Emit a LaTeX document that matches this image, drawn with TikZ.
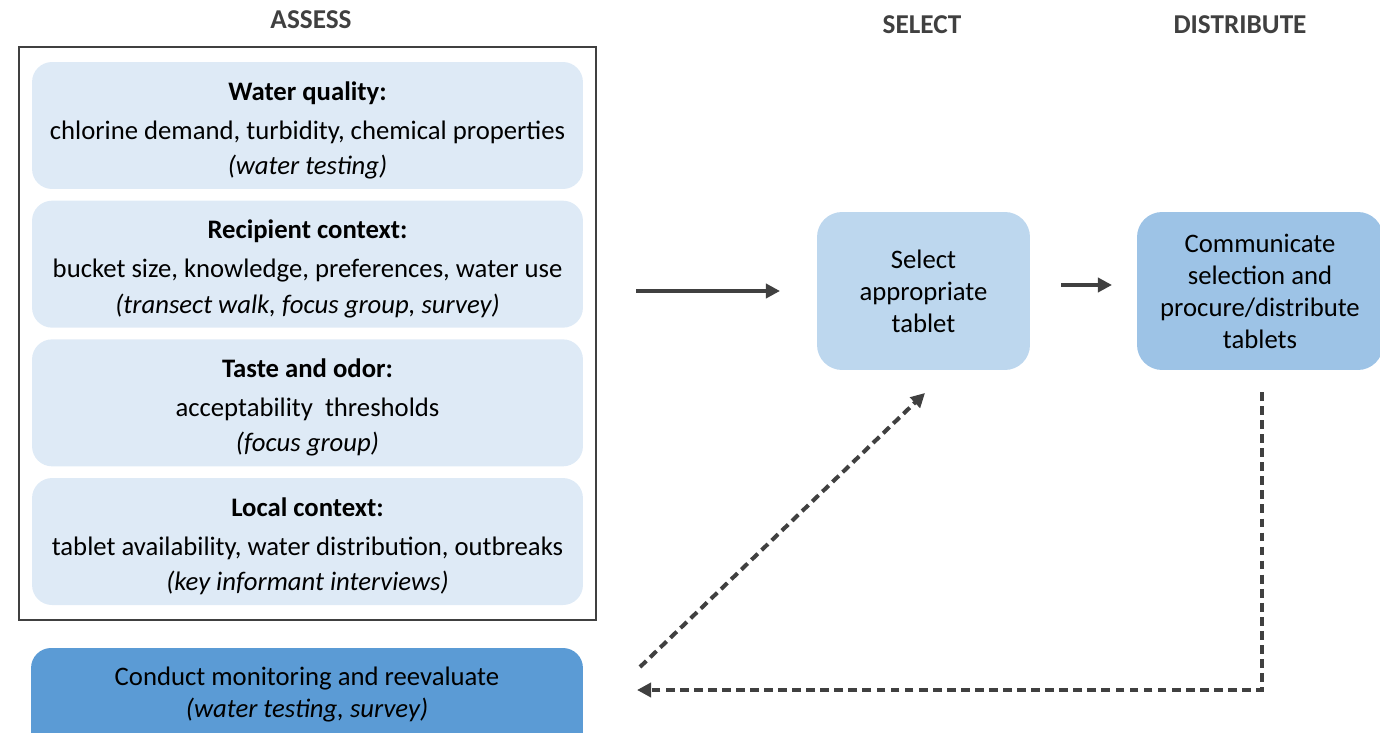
\documentclass[tikz,border=0pt]{standalone}
\usepackage{fontspec}
\setmainfont{Carlito}
\usetikzlibrary{arrows.meta, positioning, calc}
\definecolor{paleblue}{HTML}{DEEAF6}
\definecolor{lightblue}{HTML}{BDD7EE}
\definecolor{midblue}{HTML}{9DC3E6}
\definecolor{deepblue}{HTML}{5B9BD5}
\definecolor{inkgray}{HTML}{404040}
% bold first line of a factor box, with a little extra room on top
\newcommand{\factorhead}[1]{\rule{0pt}{16pt}\textbf{#1}}

\begin{document}
\begin{tikzpicture}[x=0.02cm, y=-0.02cm,
    font=\fontsize{15.2}{18.2}\selectfont,
    header/.style={font=\fontsize{15.5}{18}\selectfont\bfseries, text=inkgray},
    factor/.style={fill=paleblue, rounded corners=0.4cm, align=center,
        minimum width=11.02cm, minimum height=2.54cm, inner sep=0pt},
    stepbox/.style={rounded corners=0.5cm, align=center, inner sep=0pt,
        minimum height=3.16cm},
    flow/.style={draw=inkgray, line width=2.3pt, -{Triangle[length=8pt,width=8pt]}},
    loopback/.style={flow, dash pattern=on 5pt off 3pt}]

    % Page area
    \useasboundingbox (0,0) rectangle (1380,733);
    \clip (0,0) rectangle (1380,733);

    % Column headers
    \node[header] (h1) at (311,20) {ASSESS};
    \node[header] (h2) at (922,25) {SELECT};
    \node[header] (h3) at (1240,25) {DISTRIBUTE};

    % Assess frame and its factors
    \node (assess) [draw=inkgray, line width=0.9pt, minimum width=11.54cm,
        minimum height=11.46cm, inner sep=0pt] at (307.5,333.5) {};
    \node[factor] (water) at (307.5,125.5)
        {\factorhead{Water quality:}\\[4pt] chlorine demand, turbidity, chemical properties\\[2pt] \textit{(water testing)}};
    \node[factor, below=0.22cm of water] (recip)
        {\factorhead{Recipient context:}\\[4pt] bucket size, knowledge, preferences, water use\\[2pt] \textit{(transect walk, focus group, survey)}};
    \node[factor, below=0.22cm of recip] (taste)
        {\factorhead{Taste and odor:}\\[4pt] acceptability\ \ thresholds\\[2pt] \textit{(focus group)}};
    \node[factor, below=0.22cm of taste] (local)
        {\factorhead{Local context:}\\[4pt] tablet availability, water distribution, outbreaks\\[2pt] \textit{(key informant interviews)}};

    % Monitoring bar (runs off the bottom)
    \node[fill=deepblue, rounded corners=0.4cm, minimum width=11.04cm,
        minimum height=2.2cm, inner sep=0pt] (monitor) at (307,703) {};
    \node[align=center] (montext) at (307,695)
        {Conduct monitoring and reevaluate\\ \textit{(water testing, survey)}};

    % Select and distribute steps
    \node[stepbox, fill=lightblue, minimum width=4.26cm] (select) at (923.5,291)
        {Select\\ appropriate\\ tablet};
    \node[stepbox, fill=midblue, minimum width=4.92cm] (distribute) at (1260,291)
        {Communicate\\ selection and\\ procure/distribute\\ tablets};

    % Arrow ends
    \coordinate (a1) at (636,291);
    \coordinate (a2) at (780,291);
    \coordinate (b1) at (1061,285);
    \coordinate (b2) at (1112,285);
    \coordinate (c1) at (1262,392);
    \coordinate (c2) at (1262,690);
    \coordinate (c3) at (637,690);
    \coordinate (d1) at (640,667);
    \coordinate (d2) at (925,393);

    % Forward flow
    \draw[flow] (a1) -- (a2);
    \draw[flow] (b1) -- (b2);

    % Feedback loop
    \draw[loopback] (c1) -- (c2) -- (c3);
    \draw[loopback] (d1) -- (d2);
\end{tikzpicture}
\end{document}
